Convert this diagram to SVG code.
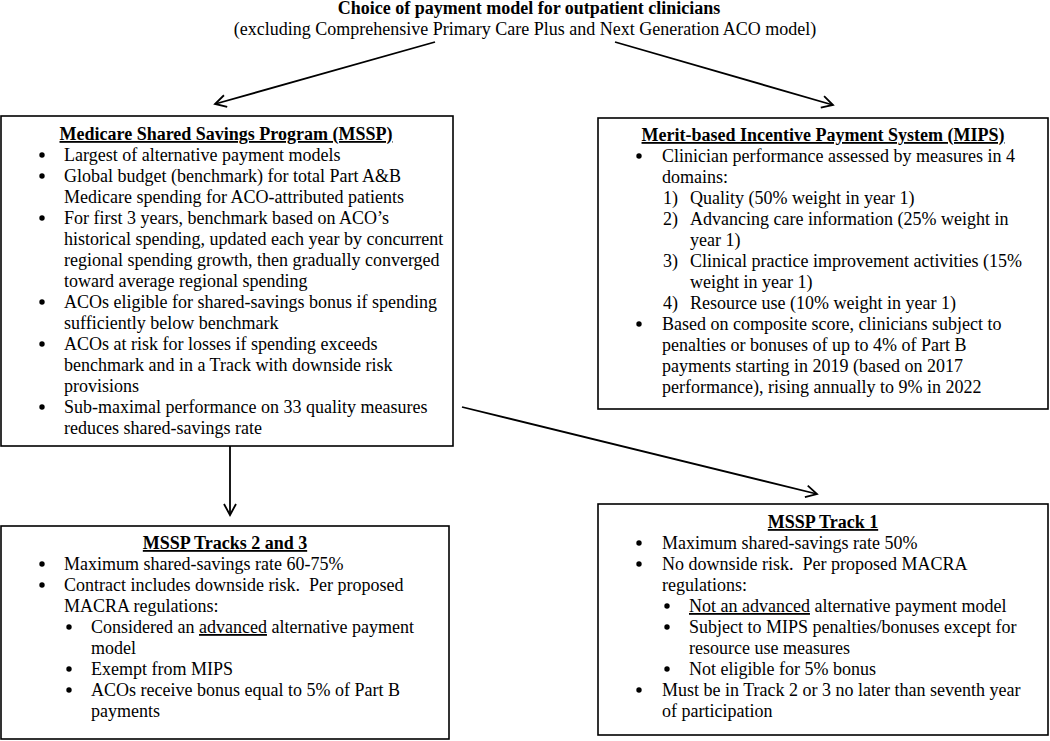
<svg xmlns="http://www.w3.org/2000/svg" width="1050" height="741" viewBox="0 0 1050 741">
<style>
text{font-family:"Liberation Serif","Times New Roman",serif;font-size:18px;fill:#000}
.t{font-weight:bold;text-anchor:middle}
.u{text-decoration:underline}
.box{fill:#fff;stroke:#000;stroke-width:1.6}
.b{fill:#000}
.conn line{stroke:#000;stroke-width:1.8;marker-end:url(#ah)}
</style>
<defs>
<marker id="ah" viewBox="0 0 14 14" refX="12" refY="7" markerWidth="14" markerHeight="14" markerUnits="userSpaceOnUse" orient="auto">
<path d="M1,1 L12,7 L1,13" fill="none" stroke="#000" stroke-width="1.8"/>
</marker>
</defs>
<rect width="1050" height="741" fill="#fff"/>

<g id="header">
<text class="t" x="529" y="14">Choice of payment model for outpatient clinicians</text>
<text x="525" y="35" text-anchor="middle">(excluding Comprehensive Primary Care Plus and Next Generation ACO model)</text>
</g>

<g class="conn" id="connectors">
<line x1="435" y1="42" x2="215" y2="104"/>
<line x1="615" y1="42" x2="833" y2="105"/>
<line x1="462" y1="407" x2="817" y2="494"/>
<line x1="230" y1="445" x2="230" y2="515"/>
</g>

<g id="mssp">
<rect class="box" x="1" y="116" width="452" height="330"/>
<text class="t u" x="226" y="140">Medicare Shared Savings Program (MSSP)</text>
<circle class="b" cx="42" cy="155" r="2.7"/>
<text x="64" y="161">Largest of alternative payment models</text>
<circle class="b" cx="42" cy="176" r="2.7"/>
<text x="64" y="182">Global budget (benchmark) for total Part A&amp;B</text>
<text x="64" y="203">Medicare spending for ACO-attributed patients</text>
<circle class="b" cx="42" cy="218" r="2.7"/>
<text x="64" y="224">For first 3 years, benchmark based on ACO’s</text>
<text x="64" y="245">historical spending, updated each year by concurrent</text>
<text x="64" y="266">regional spending growth, then gradually converged</text>
<text x="64" y="287">toward average regional spending</text>
<circle class="b" cx="42" cy="302" r="2.7"/>
<text x="64" y="308">ACOs eligible for shared-savings bonus if spending</text>
<text x="64" y="329">sufficiently below benchmark</text>
<circle class="b" cx="42" cy="344" r="2.7"/>
<text x="64" y="350">ACOs at risk for losses if spending exceeds</text>
<text x="64" y="371">benchmark and in a Track with downside risk</text>
<text x="64" y="392">provisions</text>
<circle class="b" cx="42" cy="407" r="2.7"/>
<text x="64" y="413">Sub-maximal performance on 33 quality measures</text>
<text x="64" y="434">reduces shared-savings rate</text>
</g>

<g id="mips">
<rect class="box" x="598" y="118" width="450" height="291"/>
<text class="t u" x="823" y="141">Merit-based Incentive Payment System (MIPS)</text>
<circle class="b" cx="639" cy="156" r="2.7"/>
<text x="662" y="162">Clinician performance assessed by measures in 4</text>
<text x="662" y="183">domains:</text>
<text x="663" y="204">1)</text><text x="690" y="204">Quality (50% weight in year 1)</text>
<text x="663" y="225">2)</text><text x="690" y="225">Advancing care information (25% weight in</text>
<text x="690" y="246">year 1)</text>
<text x="663" y="267">3)</text><text x="690" y="267">Clinical practice improvement activities (15%</text>
<text x="690" y="288">weight in year 1)</text>
<text x="663" y="309">4)</text><text x="690" y="309">Resource use (10% weight in year 1)</text>
<circle class="b" cx="639" cy="324" r="2.7"/>
<text x="662" y="330">Based on composite score, clinicians subject to</text>
<text x="662" y="351">penalties or bonuses of up to 4% of Part B</text>
<text x="662" y="372">payments starting in 2019 (based on 2017</text>
<text x="662" y="393">performance), rising annually to 9% in 2022</text>
</g>

<g id="tracks23">
<rect class="box" x="1" y="526" width="448" height="213"/>
<text class="t u" x="225" y="549">MSSP Tracks 2 and 3</text>
<circle class="b" cx="42" cy="564" r="2.7"/>
<text x="64" y="570">Maximum shared-savings rate 60-75%</text>
<circle class="b" cx="42" cy="585" r="2.7"/>
<text x="64" y="591" xml:space="preserve">Contract includes downside risk.  Per proposed</text>
<text x="64" y="612">MACRA regulations:</text>
<circle class="b" cx="69" cy="627" r="2.7"/>
<text x="91" y="633">Considered an <tspan class="u">advanced</tspan> alternative payment</text>
<text x="91" y="654">model</text>
<circle class="b" cx="69" cy="669" r="2.7"/>
<text x="91" y="675">Exempt from MIPS</text>
<circle class="b" cx="69" cy="690" r="2.7"/>
<text x="91" y="696">ACOs receive bonus equal to 5% of Part B</text>
<text x="91" y="717">payments</text>
</g>

<g id="track1">
<rect class="box" x="598" y="504" width="450" height="231"/>
<text class="t u" x="823" y="528">MSSP Track 1</text>
<circle class="b" cx="639" cy="543" r="2.7"/>
<text x="662" y="549">Maximum shared-savings rate 50%</text>
<circle class="b" cx="639" cy="564" r="2.7"/>
<text x="662" y="570" xml:space="preserve">No downside risk.  Per proposed MACRA</text>
<text x="662" y="591">regulations:</text>
<circle class="b" cx="667" cy="606" r="2.7"/>
<text x="689" y="612"><tspan class="u">Not an advanced</tspan> alternative payment model</text>
<circle class="b" cx="667" cy="627" r="2.7"/>
<text x="689" y="633">Subject to MIPS penalties/bonuses except for</text>
<text x="689" y="654">resource use measures</text>
<circle class="b" cx="667" cy="669" r="2.7"/>
<text x="689" y="675">Not eligible for 5% bonus</text>
<circle class="b" cx="639" cy="690" r="2.7"/>
<text x="662" y="696">Must be in Track 2 or 3 no later than seventh year</text>
<text x="662" y="717">of participation</text>
</g>
</svg>
